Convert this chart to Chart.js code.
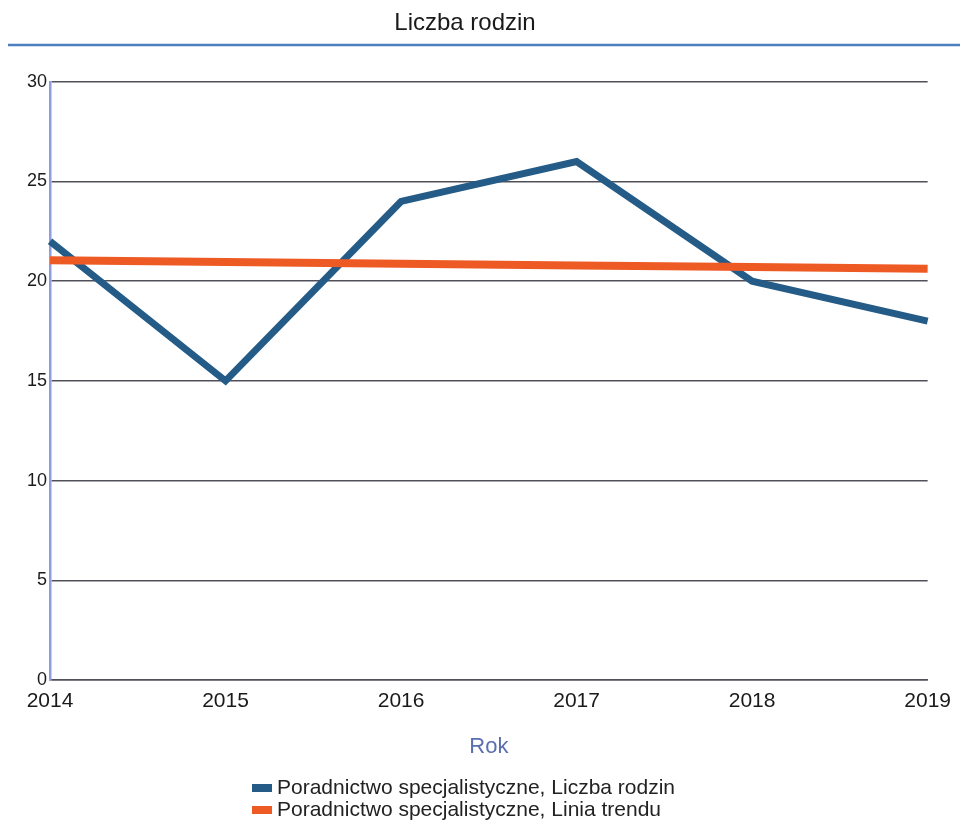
<!DOCTYPE html>
<html>
<head>
<meta charset="utf-8">
<script src="https://cdn.jsdelivr.net/npm/chart.js@4"></script>
<style>
  html, body { margin: 0; padding: 0; background: #ffffff; }
  #wrap { width: 960px; height: 830px; position: relative; }
</style>
</head>
<body>
<div id="wrap"><canvas id="c" width="960" height="830"></canvas></div>
<script>
const chartTitle = "Liczba rodzin";
const xAxisTitle = "Rok";
const years = ["2014", "2015", "2016", "2017", "2018", "2019"];
const seriesLabel = "Poradnictwo specjalistyczne, Liczba rodzin";
const seriesValues = [22, 15, 24, 26, 20, 18];
const trendLabel = "Poradnictwo specjalistyczne, Linia trendu";
const trendValues = [21.05, 20.96, 20.88, 20.79, 20.71, 20.62];
const yMin = 0, yMax = 30, yStep = 5;

const FONT = "'Liberation Sans', Arial, sans-serif";
const BLUE = "#245c87";
const ORANGE = "#ee5a24";

const titleRule = {
  id: "titleRule",
  afterDraw(chart) {
    const ctx = chart.ctx;
    ctx.save();
    ctx.strokeStyle = "#4d7fc0";
    ctx.lineWidth = 2.5;
    ctx.beginPath();
    ctx.moveTo(8, 45);
    ctx.lineTo(960, 45);
    ctx.stroke();
    ctx.restore();
  }
};

const stackedLegend = {
  id: "stackedLegend",
  afterDraw(chart) {
    const ctx = chart.ctx;
    ctx.save();
    ctx.font = "21px " + FONT;
    ctx.textBaseline = "middle";
    ctx.textAlign = "left";
    const x0 = 252, y0 = 788, rowH = 22;
    chart.data.datasets.forEach((ds, i) => {
      const y = y0 + i * rowH;
      ctx.fillStyle = ds.borderColor;
      ctx.fillRect(x0, y - 4, 20, 8);
      ctx.fillStyle = "#222222";
      ctx.fillText(ds.label, x0 + 25, y);
    });
    ctx.restore();
  }
};

new Chart(document.getElementById("c"), {
  type: "line",
  data: {
    labels: years,
    datasets: [
      {
        label: seriesLabel,
        data: seriesValues,
        borderColor: BLUE,
        backgroundColor: BLUE,
        borderWidth: 7,
        pointRadius: 0,
        tension: 0,
        fill: false,
        order: 1
      },
      {
        label: trendLabel,
        data: trendValues,
        borderColor: ORANGE,
        backgroundColor: ORANGE,
        borderWidth: 8,
        pointRadius: 0,
        tension: 0,
        fill: false,
        order: 0
      }
    ]
  },
  options: {
    responsive: false,
    animation: false,
    layout: { padding: { left: 0, right: 30, top: 0, bottom: 70 } },
    plugins: {
      legend: { display: false },
      tooltip: { enabled: false },
      title: {
        display: true,
        text: chartTitle,
        color: "#1a1a1a",
        font: { family: FONT, size: 24, weight: "normal" },
        padding: { top: 9, bottom: 44 }
      }
    },
    scales: {
      x: {
        type: "category",
        offset: false,
        grid: { display: false, drawTicks: false },
        border: { display: true, color: "#50505a", width: 1.5 },
        ticks: {
          color: "#1a1a1a",
          font: { family: FONT, size: 21 },
          padding: 9,
          maxRotation: 0,
          autoSkip: false
        },
        title: {
          display: true,
          text: xAxisTitle,
          color: "#5b6fb0",
          font: { family: FONT, size: 22 },
          padding: { top: 0, bottom: 0 }
        },
        afterFit(s) { s.height = 80; }
      },
      y: {
        min: yMin,
        max: yMax,
        grid: { color: "#50505a", lineWidth: 1.5, drawTicks: false },
        border: { display: true, color: "#8e9de0", width: 2.5 },
        ticks: {
          stepSize: yStep,
          color: "#1a1a1a",
          font: { family: FONT, size: 18 },
          padding: 3
        },
        afterFit(s) { s.width = 50; }
      }
    }
  },
  plugins: [titleRule, stackedLegend]
});
</script>
</body>
</html>
